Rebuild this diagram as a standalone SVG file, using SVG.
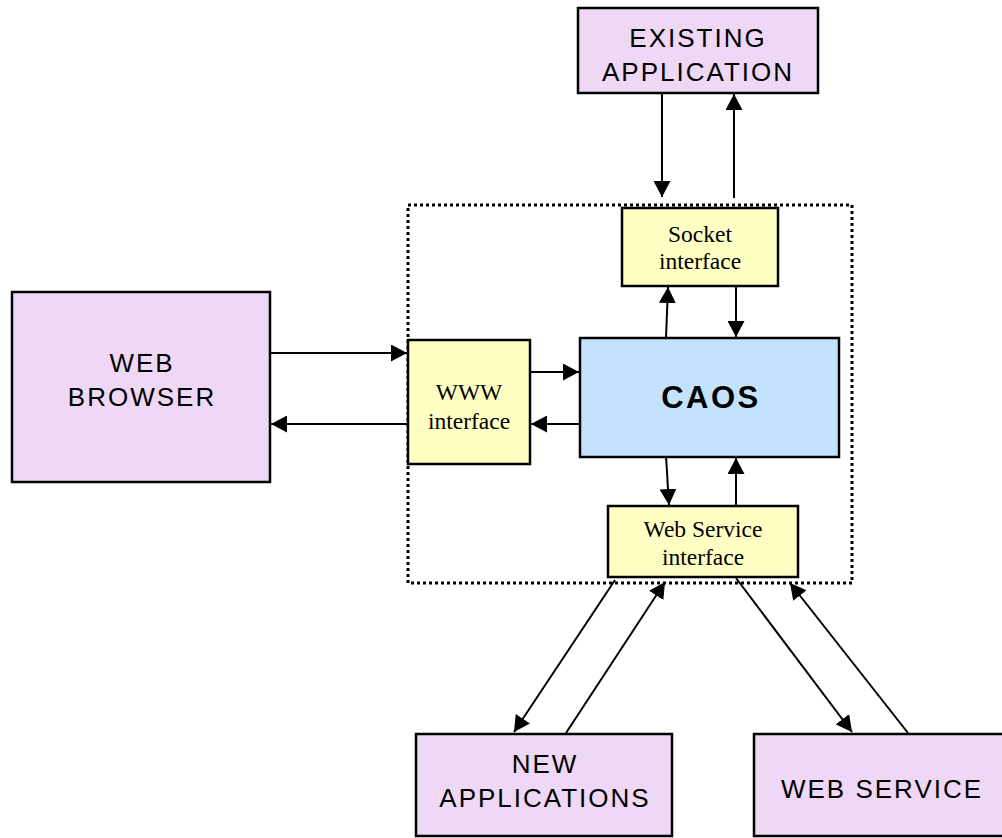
<svg xmlns="http://www.w3.org/2000/svg" width="1002" height="838" viewBox="0 0 1002 838">
  <defs>
    <marker id="ah" viewBox="0 0 16 17" refX="16" refY="8.5" markerWidth="16" markerHeight="17" markerUnits="userSpaceOnUse" orient="auto">
      <path d="M0,0 L16,8.5 L0,17 Z" fill="#000"/>
    </marker>
    <style>
      .ext { fill: #efd7f6; stroke: #000; stroke-width: 2.5; }
      .itf { fill: #ffffc4; stroke: #000; stroke-width: 2.5; }
      .core { fill: #c4e1fd; stroke: #000; stroke-width: 2.5; }
      .sans { font-family: "Liberation Sans", Arial, sans-serif; font-size: 26px; letter-spacing: 2px; fill: #000; text-anchor: middle; }
      .serif { font-family: "Liberation Serif", "Times New Roman", serif; font-size: 23.5px; fill: #000; text-anchor: middle; }
      .bold { font-family: "Liberation Sans", Arial, sans-serif; font-size: 31px; font-weight: bold; letter-spacing: 2.5px; fill: #000; text-anchor: middle; }
      .link { stroke: #000; stroke-width: 2; fill: none; marker-end: url(#ah); }
      .boundary { fill: none; stroke: #000; stroke-width: 3; stroke-dasharray: 3 3; }
    </style>
  </defs>
  <rect width="1002" height="838" fill="#fff"/>

  <!-- system boundary -->
  <rect class="boundary" x="408" y="205" width="444" height="378"/>

  <g id="existing-application">
    <rect class="ext" x="578" y="8" width="240" height="85"/>
    <text class="sans" x="698" y="47">EXISTING</text>
    <text class="sans" x="698" y="81">APPLICATION</text>
  </g>

  <g id="web-browser">
    <rect class="ext" x="12" y="292" width="258" height="190"/>
    <text class="sans" x="142" y="372">WEB</text>
    <text class="sans" x="142" y="406">BROWSER</text>
  </g>

  <g id="new-applications">
    <rect class="ext" x="416" y="734" width="256" height="102"/>
    <text class="sans" x="545" y="773">NEW</text>
    <text class="sans" x="545" y="807">APPLICATIONS</text>
  </g>

  <g id="web-service">
    <rect class="ext" x="754" y="734" width="252" height="102"/>
    <text class="sans" x="882" y="798">WEB SERVICE</text>
  </g>

  <g id="socket-interface">
    <rect class="itf" x="622" y="208" width="156" height="78"/>
    <text class="serif" x="700" y="242">Socket</text>
    <text class="serif" x="700" y="269">interface</text>
  </g>

  <g id="www-interface">
    <rect class="itf" x="408" y="340" width="122" height="124"/>
    <text class="serif" x="469" y="400">WWW</text>
    <text class="serif" x="469" y="429">interface</text>
  </g>

  <g id="caos">
    <rect class="core" x="580" y="338" width="259" height="119"/>
    <text class="bold" x="711" y="408">CAOS</text>
  </g>

  <g id="web-service-interface">
    <rect class="itf" x="608" y="506" width="190" height="71"/>
    <text class="serif" x="703" y="537">Web Service</text>
    <text class="serif" x="703" y="565">interface</text>
  </g>

  <g id="connectors">
    <line class="link" x1="662" y1="93" x2="662" y2="197"/>
    <line class="link" x1="734" y1="198" x2="734" y2="94"/>
    <line class="link" x1="666" y1="338" x2="668" y2="287"/>
    <line class="link" x1="736" y1="287" x2="736" y2="337"/>
    <line class="link" x1="270" y1="353" x2="407" y2="353"/>
    <line class="link" x1="407" y1="424" x2="271" y2="424"/>
    <line class="link" x1="530" y1="372" x2="579" y2="372"/>
    <line class="link" x1="580" y1="424" x2="531" y2="424"/>
    <line class="link" x1="666" y1="456" x2="669" y2="505"/>
    <line class="link" x1="736" y1="506" x2="736" y2="458"/>
    <line class="link" x1="615" y1="580" x2="514" y2="732"/>
    <line class="link" x1="566" y1="733" x2="665" y2="582"/>
    <line class="link" x1="736" y1="578" x2="852" y2="732"/>
    <line class="link" x1="908" y1="733" x2="790" y2="583"/>
  </g>
</svg>
